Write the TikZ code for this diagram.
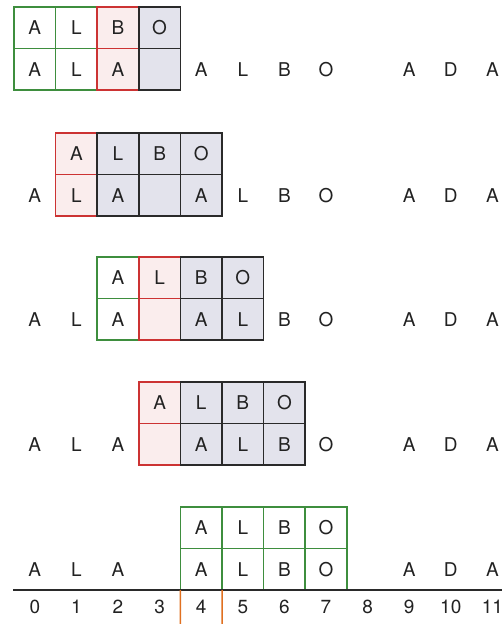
\documentclass[tikz,border=0pt]{standalone}
\usepackage{fontspec}
\setmainfont{TeX Gyre Heros}
\definecolor{gcol}{HTML}{3E8E3E}
\definecolor{rcol}{HTML}{CC3333}
\definecolor{kcol}{HTML}{2A2A2A}
\definecolor{grayfill}{HTML}{E3E3EC}
\definecolor{pinkfill}{HTML}{FAEDED}
\definecolor{ocol}{HTML}{E07020}
\definecolor{txt}{HTML}{222222}
\tikzset{
  base/.style={rectangle, anchor=north west, minimum width=41.6pt, minimum height=41.6pt, inner sep=0pt, outer sep=0pt, text=txt, font=\fontsize{19}{22}\selectfont},
  gcell/.style={base, fill=white},
  rcell/.style={base, fill=pinkfill},
  kcell/.style={base, fill=grayfill},
  gline/.style={draw=gcol, line width=1.5pt},
  rline/.style={draw=rcol, line width=1.5pt},
  kline/.style={draw=kcol, line width=1.5pt},
  letter/.style={text=txt, font=\fontsize{19}{22}\selectfont, inner sep=0pt},
  numlabel/.style={text=txt, font=\fontsize{19}{22}\selectfont, inner sep=0pt}
}
\newcommand\mycell[5]{\node[#5] (#1) at ({14+41.6*#2}, {-#3}) {#4};}
\newcommand\cellborder[2]{\foreach \n in {#2} \draw[#1] (\n.north west) rectangle (\n.south east);}
\begin{document}
\begin{tikzpicture}[x=1pt,y=1pt]
\useasboundingbox (0,0) rectangle (502,-624);
% ---------- Row 1 ----------
\mycell{p1a}{0}{7}{A}{gcell}
\mycell{p1b}{1}{7}{L}{gcell}
\mycell{t1a}{0}{48.6}{A}{gcell}
\mycell{t1b}{1}{48.6}{L}{gcell}
\mycell{p1c}{2}{7}{B}{rcell}
\mycell{t1c}{2}{48.6}{A}{rcell}
\mycell{p1d}{3}{7}{O}{kcell}
\mycell{t1d}{3}{48.6}{}{kcell}
\foreach \c/\l in {4/A,5/L,6/B,7/O,9/A,10/D,11/A}
  \node[letter] (s1-\c) at ({14+41.6*(\c+0.5)}, -69.4) {\l};
% ---------- Row 2 ----------
\mycell{p2a}{1}{133}{A}{rcell}
\mycell{t2a}{1}{174.6}{L}{rcell}
\mycell{p2b}{2}{133}{L}{kcell}
\mycell{p2c}{3}{133}{B}{kcell}
\mycell{p2d}{4}{133}{O}{kcell}
\mycell{t2b}{2}{174.6}{A}{kcell}
\mycell{t2c}{3}{174.6}{}{kcell}
\mycell{t2d}{4}{174.6}{A}{kcell}
\foreach \c/\l in {0/A,5/L,6/B,7/O,9/A,10/D,11/A}
  \node[letter] (s2-\c) at ({14+41.6*(\c+0.5)}, -195.4) {\l};
% ---------- Row 3 ----------
\mycell{p3a}{2}{257}{A}{gcell}
\mycell{t3a}{2}{298.6}{A}{gcell}
\mycell{p3b}{3}{257}{L}{rcell}
\mycell{t3b}{3}{298.6}{}{rcell}
\mycell{p3c}{4}{257}{B}{kcell}
\mycell{p3d}{5}{257}{O}{kcell}
\mycell{t3c}{4}{298.6}{A}{kcell}
\mycell{t3d}{5}{298.6}{L}{kcell}
\foreach \c/\l in {0/A,1/L,6/B,7/O,9/A,10/D,11/A}
  \node[letter] (s3-\c) at ({14+41.6*(\c+0.5)}, -319.4) {\l};
% ---------- Row 4 ----------
\mycell{p4a}{3}{382}{A}{rcell}
\mycell{t4a}{3}{423.6}{}{rcell}
\mycell{p4b}{4}{382}{L}{kcell}
\mycell{p4c}{5}{382}{B}{kcell}
\mycell{p4d}{6}{382}{O}{kcell}
\mycell{t4b}{4}{423.6}{A}{kcell}
\mycell{t4c}{5}{423.6}{L}{kcell}
\mycell{t4d}{6}{423.6}{B}{kcell}
\foreach \c/\l in {0/A,1/L,2/A,7/O,9/A,10/D,11/A}
  \node[letter] (s4-\c) at ({14+41.6*(\c+0.5)}, -444.4) {\l};
% ---------- Row 5 ----------
\mycell{p5a}{4}{507}{A}{gcell}
\mycell{p5b}{5}{507}{L}{gcell}
\mycell{p5c}{6}{507}{B}{gcell}
\mycell{p5d}{7}{507}{O}{gcell}
\mycell{t5a}{4}{548.6}{A}{gcell}
\mycell{t5b}{5}{548.6}{L}{gcell}
\mycell{t5c}{6}{548.6}{B}{gcell}
\mycell{t5d}{7}{548.6}{O}{gcell}
\foreach \c/\l in {0/A,1/L,2/A,9/A,10/D,11/A}
  \node[letter] (s5-\c) at ({14+41.6*(\c+0.5)}, -569.4) {\l};
% ---------- Borders: green, then red, then black ----------
\cellborder{gline}{p1a,p1b,t1a,t1b,p3a,t3a,p5a,p5b,p5c,p5d,t5a,t5b,t5c,t5d}
\cellborder{rline}{p1c,t1c,p2a,t2a,p3b,t3b,p4a,t4a}
\cellborder{kline}{p1d,t1d,p2b,p2c,p2d,t2b,t2c,t2d,p3c,p3d,t3c,t3d,p4b,p4c,p4d,t4b,t4c,t4d}
% ---------- Axis ----------
\coordinate (axL) at (13,-590.2);
\coordinate (axR) at (502,-590.2);
\draw[line width=1.8pt, kcol] (axL) -- (axR);
\foreach \c in {0,...,11}
  \node[numlabel] (n\c) at ({14+41.6*(\c+0.5)}, -607) {\c};
\coordinate (o1t) at (t5a.south west);
\coordinate (o2t) at (t5a.south east);
\coordinate (o1b) at (180.4,-624);
\coordinate (o2b) at (222,-624);
\draw[line width=1.5pt, ocol] (o1t) -- (o1b);
\draw[line width=1.5pt, ocol] (o2t) -- (o2b);
\end{tikzpicture}
\end{document}
